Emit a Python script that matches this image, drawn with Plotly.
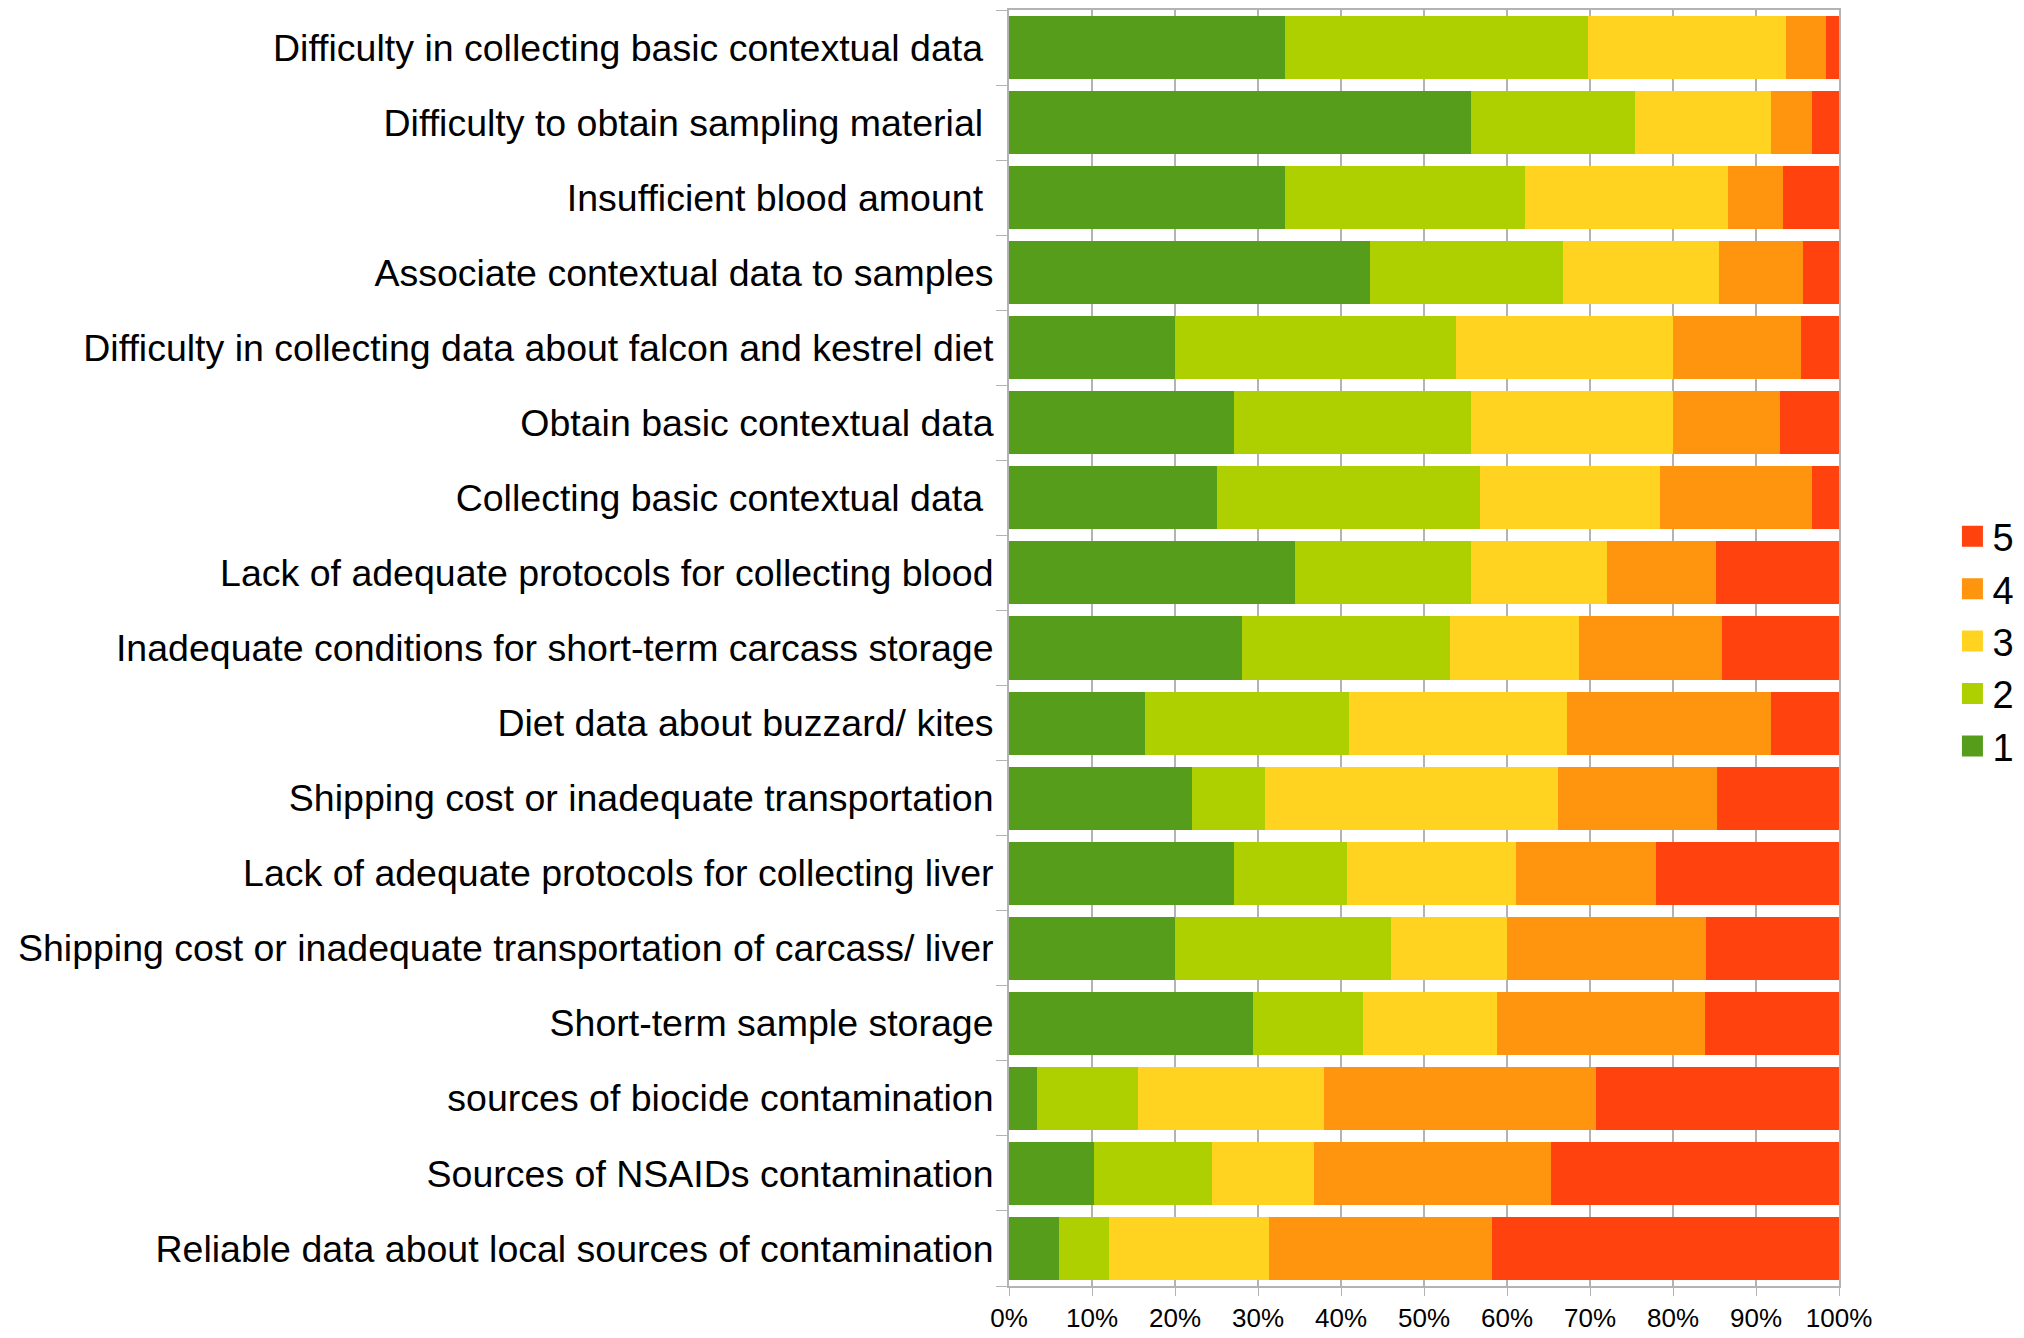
import plotly.graph_objects as go

# survey items, bottom row first so they read top-down like the original
categories = [
    "Reliable data about local sources of contamination",
    "Sources of NSAIDs contamination",
    "sources of biocide contamination",
    "Short-term sample storage",
    "Shipping cost or inadequate transportation of carcass/ liver",
    "Lack of adequate protocols for collecting liver",
    "Shipping cost or inadequate transportation",
    "Diet data about buzzard/ kites",
    "Inadequate conditions for short-term carcass storage",
    "Lack of adequate protocols for collecting blood",
    "Collecting basic contextual data\u00a0",
    "Obtain basic contextual data",
    "Difficulty in collecting data about falcon and kestrel diet",
    "Associate contextual data to samples",
    "Insufficient blood amount\u00a0",
    "Difficulty to obtain sampling material\u00a0",
    "Difficulty in collecting basic contextual data\u00a0",
]

# share (%) of answers per score, same order as categories
score_1 = [6.0, 10.2, 3.4, 29.4, 20.0, 27.1, 22.1, 16.4, 28.1, 34.4, 25.0, 27.1, 20.0, 43.5, 33.3, 55.7, 33.3]
score_2 = [6.0, 14.3, 12.1, 13.2, 26.0, 13.6, 8.8, 24.6, 25.0, 21.3, 31.7, 28.6, 33.8, 23.2, 28.9, 19.7, 36.5]
score_3 = [19.4, 12.2, 22.4, 16.2, 14.0, 20.3, 35.3, 26.2, 15.6, 16.4, 21.7, 24.3, 26.2, 18.8, 24.4, 16.4, 23.8]
score_4 = [26.9, 28.6, 32.8, 25.0, 24.0, 16.9, 19.1, 24.6, 17.2, 13.1, 18.3, 12.9, 15.4, 10.1, 6.7, 4.9, 4.8]
score_5 = [41.8, 34.7, 29.3, 16.2, 16.0, 22.0, 14.7, 8.2, 14.1, 14.8, 3.3, 7.1, 4.6, 4.3, 6.7, 3.3, 1.6]

series = [("1", score_1, "#579d1c"), ("2", score_2, "#aecf00"), ("3", score_3, "#ffd320"),
          ("4", score_4, "#ff950e"), ("5", score_5, "#ff420e")]

fig = go.Figure()
for name, vals, color in series:
    fig.add_trace(go.Bar(y=categories, x=vals, name=name, orientation="h", showlegend=False,
                         marker=dict(color=color, line=dict(width=0))))
    # legend-only entry so the swatch can be drawn bigger than the fixed bar swatch
    fig.add_trace(go.Scatter(x=[None], y=[None], mode="markers", name=name,
                             marker=dict(symbol="square", size=16, color=color,
                                         line=dict(width=5, color=color))))

fig.update_layout(
    barmode="stack", barnorm="percent", bargap=0.16,
    width=2016, height=1330,
    plot_bgcolor="white", paper_bgcolor="white",
    margin=dict(l=1001, r=185, t=2, b=52),
    font=dict(family="Liberation Sans, Arial, sans-serif", color="black"),
    legend=dict(traceorder="reversed", xref="container", yref="container",
                x=0.9645, y=0.524, xanchor="left", yanchor="middle",
                font=dict(size=38), itemwidth=30),
)
fig.update_xaxes(range=[0, 100], tickvals=list(range(0, 101, 10)),
                 ticktext=[f"{v}%" for v in range(0, 101, 10)],
                 showgrid=True, gridcolor="#b3b3b3", gridwidth=1.5,
                 showline=True, linecolor="#b3b3b3", linewidth=2, mirror=True,
                 ticks="outside", ticklen=8, tickcolor="#b3b3b3", automargin=False,
                 tickfont=dict(family="Liberation Sans Narrow, Arial Narrow, Liberation Sans, sans-serif", size=26),
                 zeroline=False)
fig.update_yaxes(type="category", tickson="boundaries", showgrid=False,
                 showline=True, linecolor="#b3b3b3", linewidth=2, mirror=True,
                 ticks="outside", ticklen=11, tickcolor="#b3b3b3", ticklabelstandoff=6,
                 automargin=False,
                 tickfont=dict(size=37.5), range=[-0.5, len(categories) - 0.5])

fig.write_html("out.html")
